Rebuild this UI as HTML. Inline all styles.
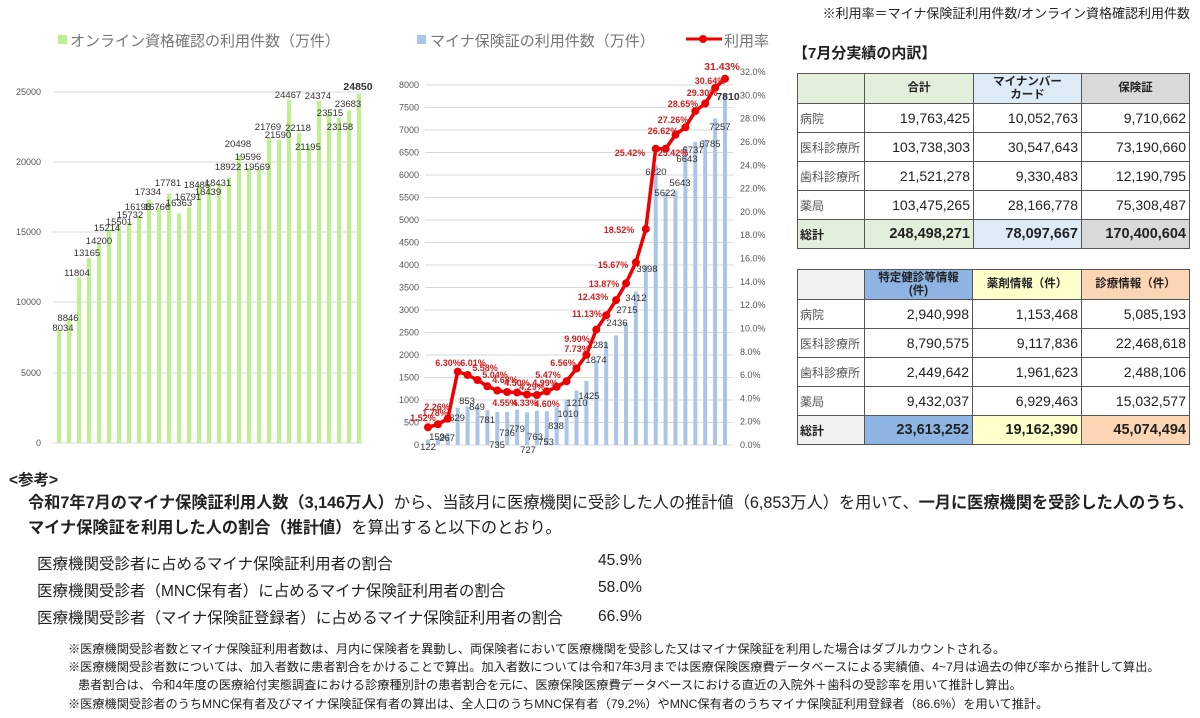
<!DOCTYPE html>
<html><head><meta charset="utf-8">
<style>
body{margin:0;width:1200px;height:718px;background:#fff;position:relative;overflow:hidden;font-family:"Liberation Sans","Noto Sans CJK JP",sans-serif;color:#222}
.abs{position:absolute;white-space:nowrap}
table{position:absolute;border-collapse:collapse;font-family:"Liberation Sans","Noto Sans CJK JP",sans-serif}
td{border:1px solid #555;padding:0 3px;height:28px;font-size:14px;text-align:right}
td.l{text-align:left;font-size:12px;color:#555;padding-left:2px}
td.h{text-align:center;font-weight:bold;font-size:11.5px;line-height:13px}
tr.t td{font-weight:bold;font-size:14.5px}
tr.t td.l{color:#222;font-size:12px}
svg text{font-family:"Liberation Sans","Noto Sans CJK JP",sans-serif}
</style></head><body>
<div class="abs" style="right:10px;top:3px;font-size:13px;color:#222">※利用率＝マイナ保険証利用件数/オンライン資格確認利用件数</div>

<svg width="1200" height="460" style="position:absolute;left:0;top:0">
<!-- LEFT CHART -->
<rect x="58" y="35" width="9" height="9" fill="#bdf08f"/>
<text x="70" y="46" font-size="15" fill="#777">オンライン資格確認の利用件数（万件）</text>
<g stroke="#d9d9d9" stroke-width="1">
<line x1="53" x2="363" y1="92" y2="92"/><line x1="53" x2="363" y1="162" y2="162"/><line x1="53" x2="363" y1="232" y2="232"/><line x1="53" x2="363" y1="302" y2="302"/><line x1="53" x2="363" y1="373" y2="373"/><line x1="53" x2="363" y1="443" y2="443"/>
</g>
<g font-size="9" fill="#555" text-anchor="end">
<text x="41" y="95">25000</text><text x="41" y="165">20000</text><text x="41" y="235">15000</text><text x="41" y="305">10000</text><text x="41" y="376">5000</text><text x="41" y="446">0</text>
</g>
<g fill="#bdf08f">
<rect x="57" y="330.2" width="4" height="112.8"/><rect x="67" y="318.8" width="4" height="124.2"/><rect x="77" y="277.3" width="4" height="165.7"/><rect x="87" y="258.2" width="4" height="184.8"/><rect x="97" y="243.6" width="4" height="199.4"/><rect x="107" y="229.4" width="4" height="213.6"/><rect x="117" y="225.4" width="4" height="217.6"/><rect x="127" y="222.1" width="4" height="220.9"/><rect x="137" y="215.6" width="4" height="227.4"/><rect x="147" y="199.6" width="4" height="243.4"/><rect x="157" y="207.6" width="4" height="235.4"/><rect x="167" y="193.4" width="4" height="249.6"/><rect x="177" y="213.3" width="4" height="229.7"/><rect x="187" y="207.3" width="4" height="235.7"/><rect x="197" y="184.1" width="4" height="258.9"/><rect x="207" y="183.5" width="4" height="259.5"/><rect x="217" y="184.2" width="4" height="258.8"/><rect x="227" y="177.3" width="4" height="265.7"/><rect x="237" y="155.2" width="4" height="287.8"/><rect x="247" y="167.9" width="4" height="275.1"/><rect x="257" y="168.3" width="4" height="274.7"/><rect x="267" y="137.4" width="4" height="305.6"/><rect x="277" y="139.9" width="4" height="303.1"/><rect x="287" y="99.5" width="4" height="343.5"/><rect x="297" y="132.5" width="4" height="310.5"/><rect x="307" y="145.4" width="4" height="297.6"/><rect x="317" y="100.8" width="4" height="342.2"/><rect x="327" y="112.8" width="4" height="330.2"/><rect x="337" y="117.9" width="4" height="325.1"/><rect x="347" y="110.5" width="4" height="332.5"/><rect x="357" y="94.1" width="4" height="348.9"/>
</g>
<g font-size="9.5" fill="#333" text-anchor="middle">
<text x="63" y="331">8034</text><text x="68" y="321">8846</text><text x="77" y="276">11804</text><text x="87" y="256">13165</text><text x="99" y="244">14200</text><text x="107" y="231">15214</text><text x="119" y="225">15501</text><text x="130" y="218">15732</text><text x="138" y="210">16198</text><text x="148" y="195">17334</text><text x="157" y="210">16766</text><text x="168" y="186">17781</text><text x="179" y="206">16363</text><text x="188" y="200">16791</text><text x="197" y="188">18485</text><text x="208" y="195">18439</text><text x="218" y="186">18431</text><text x="228" y="170">18922</text><text x="238" y="147">20498</text><text x="248" y="160">19596</text><text x="257" y="170">19569</text><text x="268" y="130">21769</text><text x="278" y="138">21590</text><text x="288" y="98">24467</text><text x="298" y="131">22118</text><text x="308" y="150">21195</text><text x="318" y="99">24374</text><text x="330" y="116">23515</text><text x="340" y="130">23158</text><text x="348" y="107">23683</text>
<text x="358" y="90" font-weight="bold" font-size="10.5">24850</text>
</g>
<!-- MIDDLE CHART -->
<rect x="417" y="35" width="9" height="9" fill="#a9c6e8"/>
<text x="430" y="46" font-size="15" fill="#777">マイナ保険証の利用件数（万件）</text>
<line x1="686" x2="722" y1="39" y2="39" stroke="#e00" stroke-width="3"/><circle cx="703" cy="39" r="4" fill="#e00"/>
<text x="724" y="46" font-size="15" fill="#777">利用率</text>
<g stroke="#d9d9d9" stroke-width="1">
<line x1="425" x2="733" y1="85" y2="85"/><line x1="425" x2="733" y1="107.5" y2="107.5"/><line x1="425" x2="733" y1="130" y2="130"/><line x1="425" x2="733" y1="152.5" y2="152.5"/><line x1="425" x2="733" y1="175" y2="175"/><line x1="425" x2="733" y1="197.5" y2="197.5"/><line x1="425" x2="733" y1="220" y2="220"/><line x1="425" x2="733" y1="242.5" y2="242.5"/><line x1="425" x2="733" y1="265" y2="265"/><line x1="425" x2="733" y1="287.5" y2="287.5"/><line x1="425" x2="733" y1="310" y2="310"/><line x1="425" x2="733" y1="332.5" y2="332.5"/><line x1="425" x2="733" y1="355" y2="355"/><line x1="425" x2="733" y1="377.5" y2="377.5"/><line x1="425" x2="733" y1="400" y2="400"/><line x1="425" x2="733" y1="422.5" y2="422.5"/><line x1="425" x2="733" y1="445" y2="445"/>
</g>
<g font-size="9" fill="#555" text-anchor="end">
<text x="419" y="88">8000</text><text x="419" y="110.5">7500</text><text x="419" y="133">7000</text><text x="419" y="155.5">6500</text><text x="419" y="178">6000</text><text x="419" y="200.5">5500</text><text x="419" y="223">5000</text><text x="419" y="245.5">4500</text><text x="419" y="268">4000</text><text x="419" y="290.5">3500</text><text x="419" y="313">3000</text><text x="419" y="335.5">2500</text><text x="419" y="358">2000</text><text x="419" y="380.5">1500</text><text x="419" y="403">1000</text><text x="419" y="425.5">500</text><text x="419" y="448">0</text>
</g>
<g font-size="9" fill="#555">
<text x="740" y="75">32.0%</text><text x="740" y="98.3">30.0%</text><text x="740" y="121.7">28.0%</text><text x="740" y="145">26.0%</text><text x="740" y="168.3">24.0%</text><text x="740" y="191.6">22.0%</text><text x="740" y="214.9">20.0%</text><text x="740" y="238.2">18.0%</text><text x="740" y="261.5">16.0%</text><text x="740" y="284.8">14.0%</text><text x="740" y="308.1">12.0%</text><text x="740" y="331.5">10.0%</text><text x="740" y="354.8">8.0%</text><text x="740" y="378">6.0%</text><text x="740" y="401.4">4.0%</text><text x="740" y="424.7">2.0%</text><text x="740" y="448">0.0%</text>
</g>
<g fill="#a9c6e8">
<rect x="426" y="439.5" width="4" height="5.5"/><rect x="435.9" y="437.8" width="4" height="7.2"/><rect x="445.8" y="433" width="4" height="12"/><rect x="455.7" y="407.7" width="4" height="37.3"/><rect x="465.6" y="406.6" width="4" height="38.4"/><rect x="475.5" y="406.8" width="4" height="38.2"/><rect x="485.4" y="409.9" width="4" height="35.1"/><rect x="495.3" y="411.9" width="4" height="33.1"/><rect x="505.2" y="411.9" width="4" height="33.1"/><rect x="515.1" y="409.9" width="4" height="35.1"/><rect x="525" y="412.3" width="4" height="32.7"/><rect x="534.9" y="410.7" width="4" height="34.3"/><rect x="544.8" y="411.1" width="4" height="33.9"/><rect x="554.7" y="407.3" width="4" height="37.7"/><rect x="564.6" y="399.5" width="4" height="45.5"/><rect x="574.5" y="390.5" width="4" height="54.5"/><rect x="584.4" y="380.9" width="4" height="64.1"/><rect x="594.3" y="360.7" width="4" height="84.3"/><rect x="604.2" y="342.4" width="4" height="102.6"/><rect x="614.1" y="335.4" width="4" height="109.6"/><rect x="624" y="322.8" width="4" height="122.2"/><rect x="633.9" y="291.5" width="4" height="153.5"/><rect x="643.8" y="265.1" width="4" height="179.9"/><rect x="653.7" y="165.1" width="4" height="279.9"/><rect x="663.6" y="192" width="4" height="253"/><rect x="673.5" y="191" width="4" height="254"/><rect x="683.4" y="146.1" width="4" height="298.9"/><rect x="693.3" y="141.8" width="4" height="303.2"/><rect x="703.2" y="139.7" width="4" height="305.3"/><rect x="713.1" y="118.4" width="4" height="326.6"/><rect x="723" y="93.5" width="4" height="351.5"/>
</g>
<g font-size="9.5" fill="#333" text-anchor="middle">
<text x="428" y="450">122</text><text x="437" y="440">159</text><text x="447" y="441">267</text><text x="457" y="421">829</text><text x="467" y="404">853</text><text x="477" y="410">849</text><text x="487" y="423">781</text><text x="497" y="448">735</text><text x="507" y="436">736</text><text x="517" y="432">779</text><text x="528" y="453">727</text><text x="535" y="440">763</text><text x="546" y="445">753</text><text x="556" y="429">838</text><text x="568" y="417">1010</text><text x="577" y="406">1210</text><text x="589" y="399">1425</text><text x="596" y="363">1874</text><text x="598" y="348">2281</text><text x="617" y="326">2436</text><text x="627" y="313">2715</text><text x="636" y="301">3412</text><text x="647" y="272">3998</text><text x="656" y="175">6220</text><text x="665" y="196">5622</text><text x="680" y="186">5643</text><text x="687" y="162">6643</text><text x="693" y="153">6737</text><text x="710" y="147">6785</text><text x="720" y="130">7257</text>
<text x="728" y="100" font-weight="bold" font-size="10.5">7810</text>
</g>
<polyline fill="none" stroke="#e00" stroke-width="3.5" stroke-linejoin="round" points="428,427.3 437.9,424.3 447.8,418.7 457.7,371.6 467.6,375 477.5,380 487.4,386.3 497.3,390.5 507.2,392 517.1,392.5 527,394.5 536.9,395 546.8,391.4 556.7,386.8 566.6,381.2 576.5,368.5 586.4,354.9 596.3,329.6 606.2,315.3 616.1,300.1 626,283.3 635.9,262.3 645.8,229.1 655.7,148.7 665.6,148.7 675.5,134.7 685.4,127.3 695.3,111.1 705.2,103.5 715.1,87.9 725,78.7"/>
<g fill="#e00">
<circle cx="428" cy="427.3" r="4"/><circle cx="437.9" cy="424.3" r="4"/><circle cx="447.8" cy="418.7" r="4"/><circle cx="457.7" cy="371.6" r="4"/><circle cx="467.6" cy="375" r="4"/><circle cx="477.5" cy="380" r="4"/><circle cx="487.4" cy="386.3" r="4"/><circle cx="497.3" cy="390.5" r="4"/><circle cx="507.2" cy="392" r="4"/><circle cx="517.1" cy="392.5" r="4"/><circle cx="527" cy="394.5" r="4"/><circle cx="536.9" cy="395" r="4"/><circle cx="546.8" cy="391.4" r="4"/><circle cx="556.7" cy="386.8" r="4"/><circle cx="566.6" cy="381.2" r="4"/><circle cx="576.5" cy="368.5" r="4"/><circle cx="586.4" cy="354.9" r="4"/><circle cx="596.3" cy="329.6" r="4"/><circle cx="606.2" cy="315.3" r="4"/><circle cx="616.1" cy="300.1" r="4"/><circle cx="626" cy="283.3" r="4"/><circle cx="635.9" cy="262.3" r="4"/><circle cx="645.8" cy="229.1" r="4"/><circle cx="655.7" cy="148.7" r="4"/><circle cx="665.6" cy="148.7" r="4"/><circle cx="675.5" cy="134.7" r="4"/><circle cx="685.4" cy="127.3" r="4"/><circle cx="695.3" cy="111.1" r="4"/><circle cx="705.2" cy="103.5" r="4"/><circle cx="715.1" cy="87.9" r="4"/><circle cx="725" cy="78.7" r="4"/>
</g>
<g font-size="9" fill="#d02020" text-anchor="middle" font-weight="bold">
<text x="423" y="421">1.52%</text><text x="435" y="416">1.78%</text><text x="437" y="410">2.26%</text><text x="448" y="366">6.30%</text><text x="473" y="366">6.01%</text><text x="485" y="371">5.58%</text><text x="495" y="378">5.04%</text><text x="505" y="383">4.68%</text><text x="517" y="386">4.50%</text><text x="532" y="390">4.29%</text><text x="545" y="386">4.99%</text><text x="548" y="378">5.47%</text><text x="505" y="406">4.55%</text><text x="525" y="406">4.33%</text><text x="547" y="407">4.60%</text><text x="563" y="366">6.56%</text><text x="577" y="342">9.90%</text><text x="577" y="352">7.73%</text><text x="587" y="317">11.13%</text><text x="593" y="300">12.43%</text><text x="604" y="287">13.87%</text><text x="613" y="268">15.67%</text><text x="619" y="233">18.52%</text><text x="630" y="156">25.42%</text><text x="673" y="156">25.42%</text><text x="663" y="134">26.62%</text><text x="673" y="123">27.26%</text><text x="683" y="107">28.65%</text><text x="702" y="96">29.30%</text><text x="710" y="84">30.64%</text>
<text x="722" y="70" font-size="10.5">31.43%</text>
</g>
</svg>

<div class="abs" style="left:793px;top:42px;font-size:15px;font-weight:bold">【7月分実績の内訳】</div>
<table style="left:797px;top:73px">
<tr><td class="h" style="width:60px;background:#e2efda;height:29px"></td><td class="h" style="width:102px;background:#e2efda">合計</td><td class="h" style="width:101px;background:#ddebf7">マイナンバー<br>カード</td><td class="h" style="width:101px;background:#d9d9d9">保険証</td></tr>
<tr><td class="l">病院</td><td>19,763,425</td><td>10,052,763</td><td>9,710,662</td></tr>
<tr><td class="l">医科診療所</td><td>103,738,303</td><td>30,547,643</td><td>73,190,660</td></tr>
<tr><td class="l">歯科診療所</td><td>21,521,278</td><td>9,330,483</td><td>12,190,795</td></tr>
<tr><td class="l">薬局</td><td>103,475,265</td><td>28,166,778</td><td>75,308,487</td></tr>
<tr class="t"><td class="l" style="background:#e2efda">総計</td><td style="background:#e2efda">248,498,271</td><td style="background:#ddebf7">78,097,667</td><td style="background:#d9d9d9">170,400,604</td></tr>
</table>
<table style="left:797px;top:269px">
<tr><td class="h" style="width:60px;background:#f2f2f2;height:29px"></td><td class="h" style="width:101px;background:#8db4e2">特定健診等情報<br>(件)</td><td class="h" style="width:102px;background:#ffffcc">薬剤情報（件）</td><td class="h" style="width:101px;background:#fcd5b4">診療情報（件）</td></tr>
<tr><td class="l">病院</td><td>2,940,998</td><td>1,153,468</td><td>5,085,193</td></tr>
<tr><td class="l">医科診療所</td><td>8,790,575</td><td>9,117,836</td><td>22,468,618</td></tr>
<tr><td class="l">歯科診療所</td><td>2,449,642</td><td>1,961,623</td><td>2,488,106</td></tr>
<tr><td class="l">薬局</td><td>9,432,037</td><td>6,929,463</td><td>15,032,577</td></tr>
<tr class="t"><td class="l" style="background:#f2f2f2">総計</td><td style="background:#8db4e2">23,613,252</td><td style="background:#ffffcc">19,162,390</td><td style="background:#fcd5b4">45,074,494</td></tr>
</table>

<div class="abs" style="left:9px;top:468px;font-size:15.5px;font-weight:bold">&lt;参考&gt;</div>
<div class="abs" style="left:28px;top:489px;font-size:16.2px"><b>令和7年7月のマイナ保険証利用人数（3,146万人）</b>から、当該月に医療機関に受診した人の推計値（6,853万人）を用いて、<b>一月に医療機関を受診した人のうち、</b></div>
<div class="abs" style="left:28px;top:514px;font-size:16.2px"><b>マイナ保険証を利用した人の割合（推計値）</b>を算出すると以下のとおり。</div>
<div class="abs" style="left:37px;top:552px;font-size:15.5px">医療機関受診者に占めるマイナ保険証利用者の割合</div>
<div class="abs" style="left:37px;top:579px;font-size:15.5px">医療機関受診者（MNC保有者）に占めるマイナ保険証利用者の割合</div>
<div class="abs" style="left:37px;top:606px;font-size:15.5px">医療機関受診者（マイナ保険証登録者）に占めるマイナ保険証利用者の割合</div>
<div class="abs" style="left:598px;top:552px;font-size:15.5px">45.9%</div>
<div class="abs" style="left:598px;top:579px;font-size:15.5px">58.0%</div>
<div class="abs" style="left:598px;top:608px;font-size:15.5px">66.9%</div>
<div class="abs" style="left:68px;top:639px;font-size:12.2px">※医療機関受診者数とマイナ保険証利用者数は、月内に保険者を異動し、両保険者において医療機関を受診した又はマイナ保険証を利用した場合はダブルカウントされる。</div>
<div class="abs" style="left:68px;top:657px;font-size:12.2px">※医療機関受診者数については、加入者数に患者割合をかけることで算出。加入者数については令和7年3月までは医療保険医療費データベースによる実績値、4~7月は過去の伸び率から推計して算出。</div>
<div class="abs" style="left:78px;top:675px;font-size:12.2px">患者割合は、令和4年度の医療給付実態調査における診療種別計の患者割合を元に、医療保険医療費データベースにおける直近の入院外＋歯科の受診率を用いて推計し算出。</div>
<div class="abs" style="left:68px;top:694px;font-size:12.2px">※医療機関受診者のうちMNC保有者及びマイナ保険証保有者の算出は、全人口のうちMNC保有者（79.2%）やMNC保有者のうちマイナ保険証利用登録者（86.6%）を用いて推計。</div>
</body></html>
